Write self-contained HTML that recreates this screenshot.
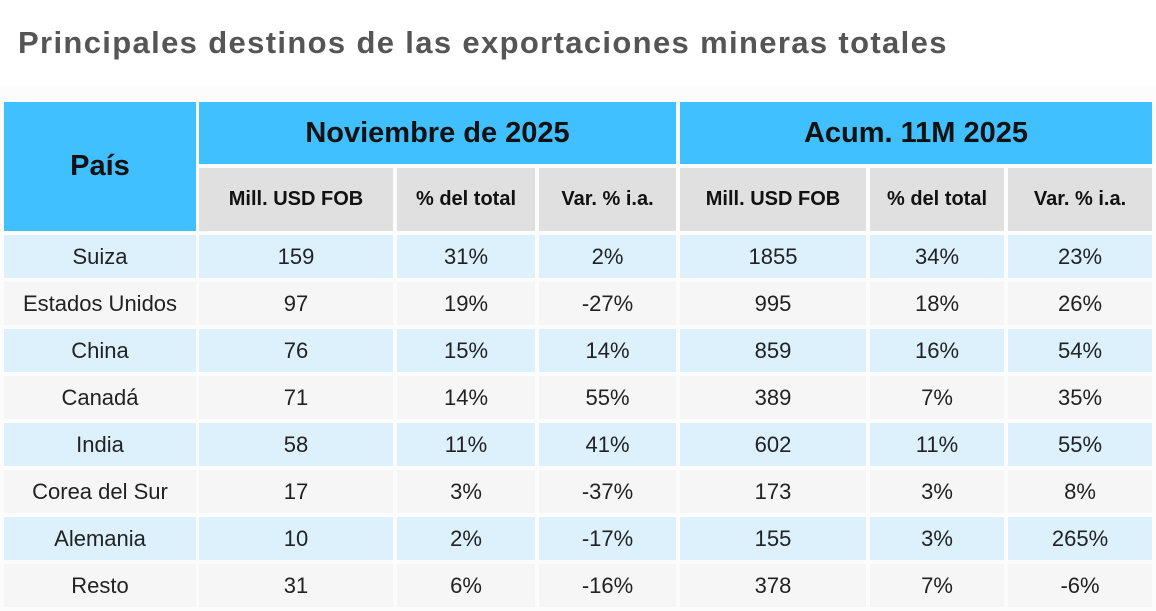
<!DOCTYPE html>
<html><head><meta charset="utf-8"><style>
body{margin:0;width:1156px;height:611px;background:#fff;position:relative;overflow:hidden;font-family:"Liberation Sans",sans-serif}
.t{position:absolute;left:18px;top:25px;font-size:31px;font-weight:bold;color:#555;letter-spacing:1.35px}
.bg{position:absolute;left:0;top:86px;width:1156px;height:525px;background:#fcfcfc}
.c{position:absolute;display:flex;align-items:center;justify-content:center;color:#222;font-family:"Liberation Sans",sans-serif;font-size:22px}
.h1{background:#40c0ff;font-weight:bold;color:#111;font-size:29px}
.h2{background:#e0e0e0;font-weight:bold;color:#111;font-size:20px}
.b{background:#dcf1fc}.g{background:#f6f6f6}
</style></head><body>
<div class="t">Principales destinos de las exportaciones mineras totales</div>
<div class="bg"></div>
<div id="tb"></div>
<script>
const cols=[[4,196],[199,393],[397,535],[539,676],[680,866],[870,1004],[1008,1152]];
let h='';
function cell(x1,x2,y,hh,cls,txt){h+=`<div class="c ${cls}" style="left:${x1}px;width:${x2-x1}px;top:${y}px;height:${hh}px">${txt}</div>`;}
cell(4,196,102,129,'h1','País');
cell(199,676,102,62,'h1','Noviembre de 2025');
cell(680,1152,102,62,'h1','Acum. 11M 2025');
const sub=['Mill. USD FOB','% del total','Var. % i.a.'];
for(let i=1;i<7;i++)cell(cols[i][0],cols[i][1],168,63,'h2',sub[(i-1)%3]);
const d=[['Suiza','159','31%','2%','1855','34%','23%'],['Estados Unidos','97','19%','-27%','995','18%','26%'],['China','76','15%','14%','859','16%','54%'],['Canadá','71','14%','55%','389','7%','35%'],['India','58','11%','41%','602','11%','55%'],['Corea del Sur','17','3%','-37%','173','3%','8%'],['Alemania','10','2%','-17%','155','3%','265%'],['Resto','31','6%','-16%','378','7%','-6%']];
d.forEach((r,i)=>{const y=235+i*47;r.forEach((v,j)=>cell(cols[j][0],cols[j][1],y,43,i%2?'g':'b',v));});
document.getElementById('tb').innerHTML=h;
</script>
</body></html>
